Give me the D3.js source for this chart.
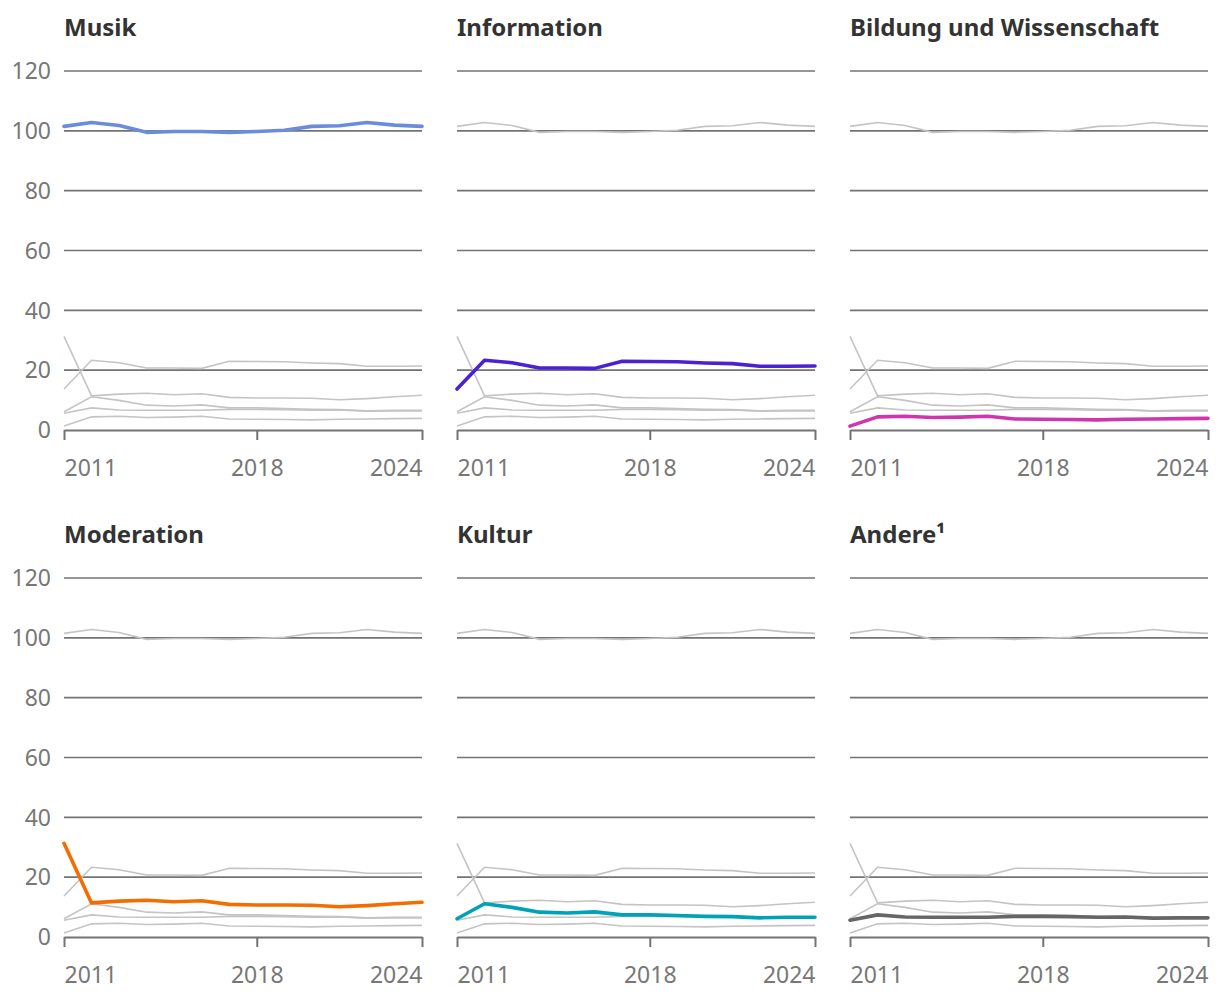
<!DOCTYPE html>
<html><head><meta charset="utf-8">
<script src="https://cdn.jsdelivr.net/npm/d3@7/dist/d3.min.js"></script>
<style>body{margin:0;background:#fff;} svg{display:block;font-family:"Noto Sans",sans-serif;}</style>
</head><body><svg id="c" width="1220" height="1004"></svg>
<script>
const years = [2011,2012,2013,2014,2015,2016,2017,2018,2019,2020,2021,2022,2023,2024];
const tickYears = [2011,2018,2024];
const yTicks = [0,20,40,60,80,100,120];
const names = ["Musik","Information","Bildung und Wissenschaft","Moderation","Kultur","Andere¹"];
const colors = ["#6b8cdb","#4b22d0","#cf35ae","#f46d00","#00a2b8","#666666"];
const musik = [101.5,102.8,101.8,99.5,99.8,99.8,99.5,99.8,100.2,101.5,101.7,102.8,101.9,101.5];
const information = [13.7,23.3,22.5,20.7,20.7,20.6,23.0,22.9,22.8,22.4,22.2,21.3,21.3,21.4];
const bildung = [1.3,4.4,4.6,4.2,4.3,4.6,3.7,3.6,3.5,3.4,3.6,3.7,3.8,3.9];
const moderation = [31.3,11.4,12.0,12.3,11.8,12.1,10.9,10.7,10.7,10.6,10.1,10.5,11.1,11.6];
const kultur = [6.1,11.1,9.9,8.3,8.0,8.4,7.4,7.4,7.2,6.9,6.8,6.4,6.6,6.6];
const andere = [5.6,7.4,6.7,6.6,6.6,6.6,6.9,6.9,6.8,6.6,6.7,6.3,6.4,6.4];
const series = [musik,information,bildung,moderation,kultur,andere];

const svg = d3.select("#c");
const colX = [64,457,850], rowY = [71,578];
const W = 358, H = 359;

names.forEach((name,i)=>{
  const cx = colX[i%3], cy = rowY[Math.floor(i/3)];
  const g = svg.append("g").attr("transform",`translate(${cx},${cy})`);
  const x = d3.scaleLinear().domain([2011,2024]).range([0,W]);
  const y = d3.scaleLinear().domain([0,120]).range([H,0]);
  g.append("text").attr("x",0).attr("y",-35).attr("font-size",24).attr("font-weight",700)
    .attr("fill","#333").text(name);
  g.selectAll(".grid").data(yTicks.filter(t=>t>0)).join("line")
    .attr("x1",0).attr("x2",W).attr("y1",d=>y(d)).attr("y2",d=>y(d))
    .attr("stroke","#737373").attr("stroke-width",1.7);
  if(i%3===0){
    g.selectAll(".yl").data(yTicks).join("text")
      .attr("x",-13).attr("y",d=>y(d)).attr("dy","0.36em").attr("text-anchor","end")
      .attr("font-size",23).attr("fill","#777").text(d=>d);
  }
  const ax = g.append("g").attr("transform",`translate(0,${H})`)
    .call(d3.axisBottom(x).tickValues(tickYears).tickFormat(d3.format("d")).tickSize(10).tickSizeOuter(0));
  ax.select(".domain").attr("stroke","#737373").attr("stroke-width",2);
  ax.selectAll(".tick line").attr("stroke","#737373").attr("stroke-width",2);
  ax.selectAll(".tick text").attr("font-size",23).attr("fill","#777").attr("font-family","Noto Sans")
    .attr("dy",0).attr("y",46)
    .attr("text-anchor",(d,k)=>k===0?"start":(k===tickYears.length-1?"end":"middle"));
  const line = d3.line().x((d,k)=>x(years[k])).y(d=>y(d)).curve(d3.curveLinear);
  series.forEach((s,j)=>{
    if(j===i) return;
    g.append("path").attr("d",line(s)).attr("fill","none").attr("stroke","#c4c4c4").attr("stroke-width",1.6);
  });
  g.append("path").attr("d",line(series[i])).attr("fill","none").attr("stroke",colors[i])
    .attr("stroke-width",3.6).attr("stroke-linejoin","round").attr("stroke-linecap","round");
});
</script></body></html>
